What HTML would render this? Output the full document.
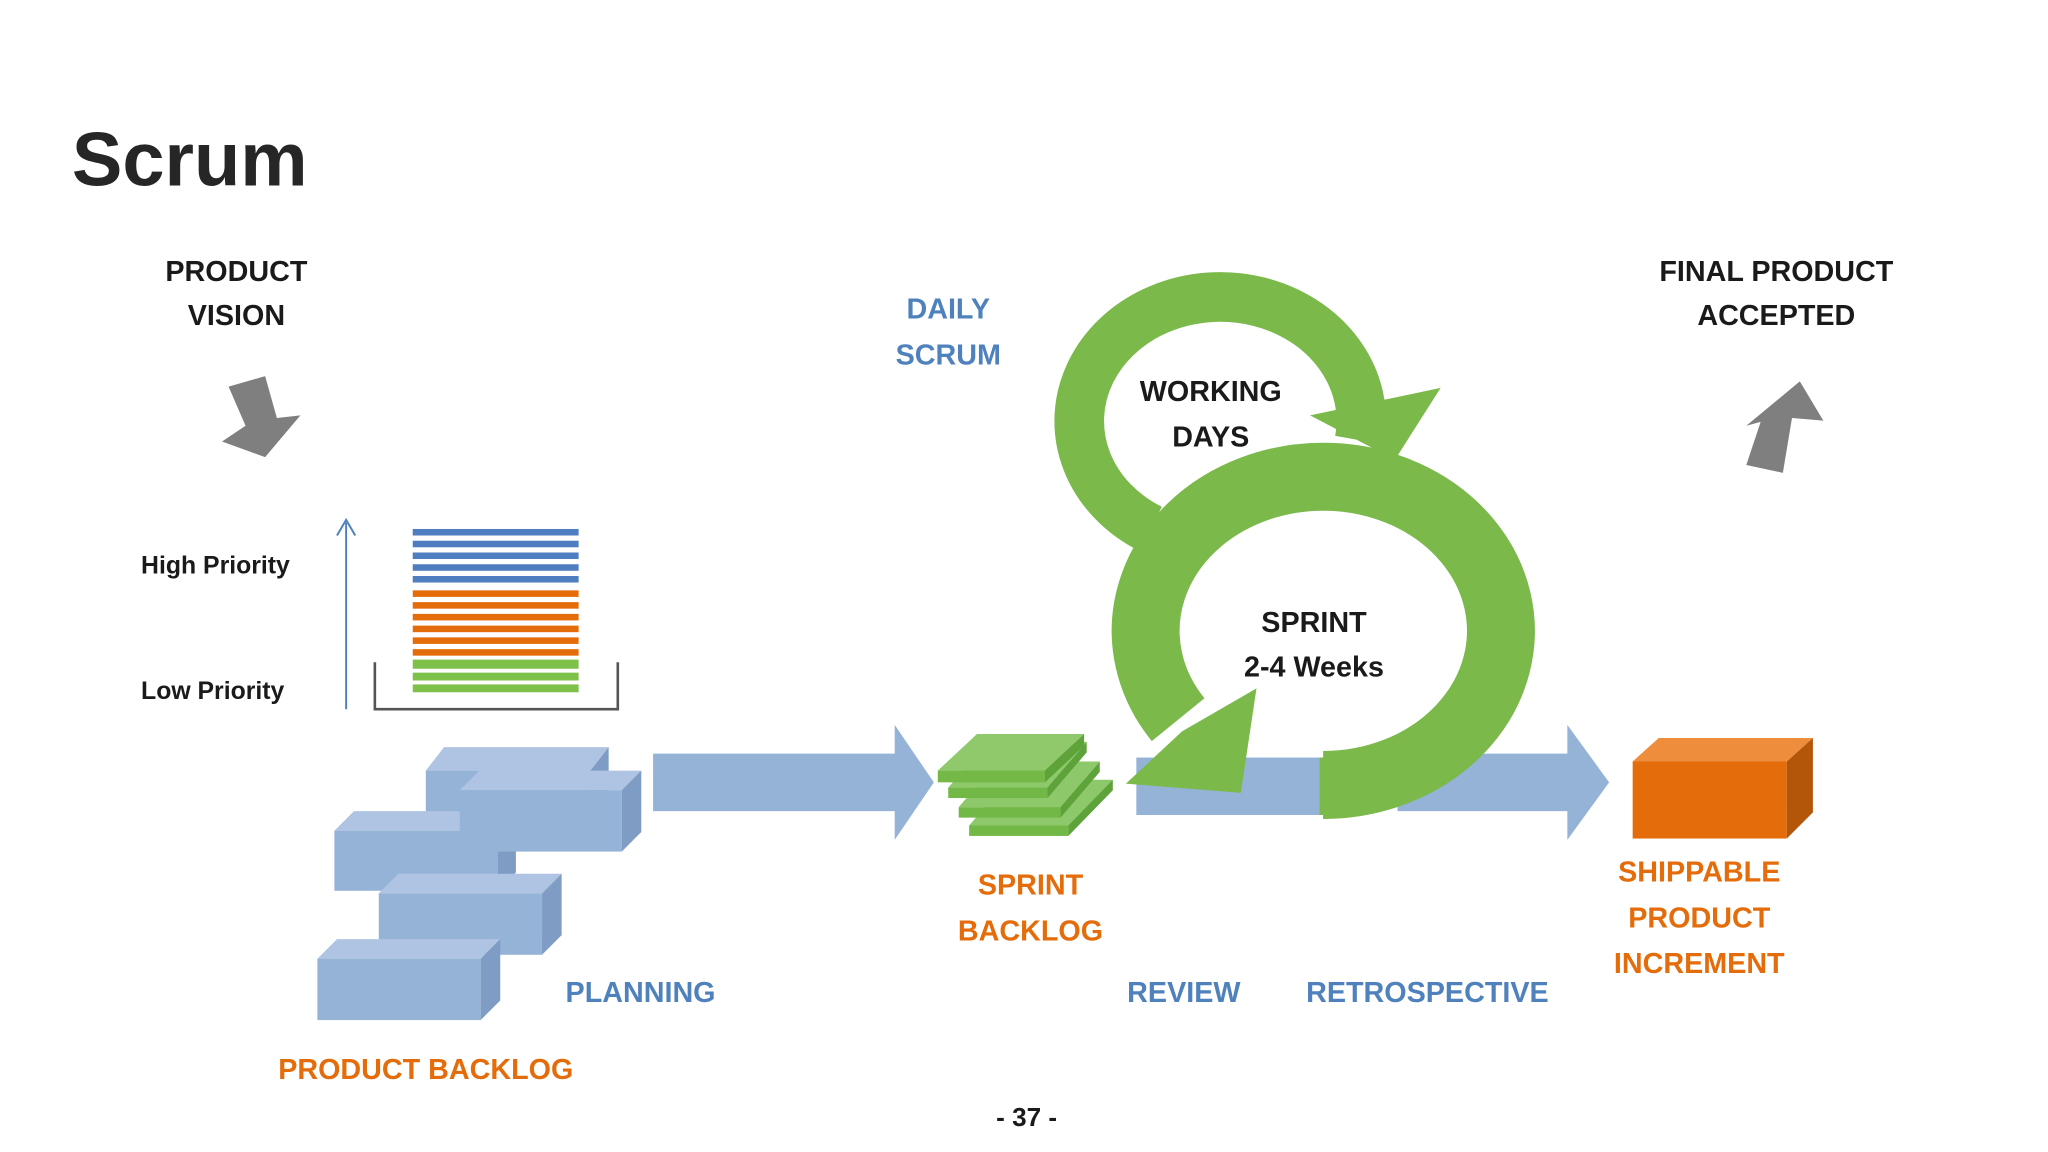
<!DOCTYPE html>
<html><head><meta charset="utf-8"><style>
html,body{margin:0;padding:0;background:#fff;}
svg{display:block;}
text{font-family:"Liberation Sans",sans-serif;font-weight:bold;}
</style></head><body>
<svg width="2048" height="1152" viewBox="0 0 1568 882" xmlns="http://www.w3.org/2000/svg">
<rect width="1568" height="882" fill="#fff"/>
<text x="55" y="142" font-size="58" fill="#262626">Scrum</text>

<g font-size="22" fill="#1a1a1a" text-anchor="middle">
<text x="181" y="215">PRODUCT</text><text x="181" y="249">VISION</text>
<text x="1360" y="215">FINAL PRODUCT</text><text x="1360" y="249">ACCEPTED</text>
</g>
<g font-size="22" fill="#4F81BD" text-anchor="middle">
<text x="726" y="244">DAILY</text><text x="726" y="279">SCRUM</text>
</g>
<g font-size="19" fill="#1a1a1a">
<text x="108" y="439">High Priority</text><text x="108" y="535">Low Priority</text>
</g>

<polygon points="175,296 203,288 212,320 230,318 203,350 170,338 188,326" fill="#7f7f7f"/>
<polygon points="1378,292 1396,322 1372,320 1365,362 1337,356 1348,323 1337,326" fill="#7f7f7f"/>

<line x1="265" y1="543" x2="265" y2="400" stroke="#4F81BD" stroke-width="1.5"/>
<polyline points="258,410 265,398 272,410" fill="none" stroke="#4F81BD" stroke-width="1.5"/>
<g fill="#4F7EC0">
<rect x="316" y="405" width="127" height="5"/><rect x="316" y="414" width="127" height="5"/><rect x="316" y="423" width="127" height="5"/><rect x="316" y="432" width="127" height="5"/><rect x="316" y="441" width="127" height="5"/>
</g>
<g fill="#E46C0A">
<rect x="316" y="452" width="127" height="5"/><rect x="316" y="461" width="127" height="5"/><rect x="316" y="470" width="127" height="5"/><rect x="316" y="479" width="127" height="5"/><rect x="316" y="488" width="127" height="5"/><rect x="316" y="497" width="127" height="5"/>
</g>
<g fill="#7DC04A">
<rect x="316" y="505" width="127" height="7"/><rect x="316" y="515" width="127" height="6"/><rect x="316" y="524" width="127" height="6"/>
</g>
<polyline points="287,507 287,543 473,543 473,507" fill="none" stroke="#555" stroke-width="2"/>

<g>
<polygon points="326,590 340,572 466,572 452,590" fill="#AFC4E2"/>
<rect x="326" y="590" width="126" height="45" fill="#95B3D7"/>
<polygon points="452,590 466,572 466,620 452,635" fill="#7E9CC4"/>
<polygon points="256,636 271,621 395,621 381,636" fill="#AFC4E2"/>
<rect x="256" y="636" width="125" height="46" fill="#95B3D7"/>
<polygon points="381,636 395,621 395,668 381,682" fill="#7E9CC4"/>
<polygon points="352,605 367,590 491,590 476,605" fill="#AFC4E2"/>
<rect x="352" y="605" width="124" height="47" fill="#95B3D7"/>
<polygon points="476,605 491,590 491,637 476,652" fill="#7E9CC4"/>
<polygon points="290,684 305,669 430,669 415,684" fill="#AFC4E2"/>
<rect x="290" y="684" width="125" height="47" fill="#95B3D7"/>
<polygon points="415,684 430,669 430,716 415,731" fill="#7E9CC4"/>
<polygon points="243,734 258,719 383,719 368,734" fill="#AFC4E2"/>
<rect x="243" y="734" width="125" height="47" fill="#95B3D7"/>
<polygon points="368,734 383,719 383,766 368,781" fill="#7E9CC4"/>
</g>

<polygon points="500,577 685,577 685,555 715,599 685,643 685,621 500,621" fill="#95B3D7"/>
<rect x="870" y="580" width="140" height="44" fill="#95B3D7"/>
<polygon points="1070,577 1200,577 1200,555 1232,599 1200,643 1200,621 1070,621" fill="#95B3D7"/>

<g>
<polygon points="742,632 772,597 852,597 822,632" fill="#8DC86A"/><rect x="742" y="632" width="76" height="8" fill="#72B846"/><polygon points="818,640 818,632 852,597 852,605" fill="#5EA33A"/>
<polygon points="734,618 764,583 842,583 812,618" fill="#8DC86A"/><rect x="734" y="618" width="78" height="8" fill="#72B846"/><polygon points="812,626 812,618 842,583 842,591" fill="#5EA33A"/>
<polygon points="726,603 756,568 832,568 802,603" fill="#8DC86A"/><rect x="726" y="603" width="76" height="8" fill="#72B846"/><polygon points="802,611 802,603 832,568 832,576" fill="#5EA33A"/>
<polygon points="718,590 748,562 830,562 800,590" fill="#8FC96C"/><rect x="718" y="590" width="82" height="9" fill="#74B948"/><polygon points="800,599 800,590 830,562 830,571" fill="#5EA33A"/>
</g>

<path d="M1041,337 A108,95 0 1 0 881,405" fill="none" stroke="#7AB94A" stroke-width="38"/>
<polygon points="1003,318 1103,297 1068,352" fill="#7AB94A"/>
<path d="M1013,601 A136,118 0 1 0 902,551" fill="none" stroke="#7AB94A" stroke-width="52"/>
<polygon points="962,527 950,607 862,600 905,560" fill="#7AB94A"/>
<rect x="1010" y="580" width="20" height="44" fill="#7AB94A"/>

<g font-size="22" fill="#1a1a1a" text-anchor="middle">
<text x="927" y="307">WORKING</text><text x="927" y="342">DAYS</text>
<text x="1006" y="484">SPRINT</text><text x="1006" y="518">2-4 Weeks</text>
</g>

<polygon points="1250,583 1270,565 1388,565 1368,583" fill="#EE8D3C"/>
<rect x="1250" y="583" width="118" height="59" fill="#E46C0A"/>
<polygon points="1368,583 1388,565 1388,622 1368,642" fill="#B4560A"/>

<g font-size="22" fill="#E46C0A" text-anchor="middle">
<text x="789" y="685">SPRINT</text><text x="789" y="720">BACKLOG</text>
<text x="1301" y="675">SHIPPABLE</text><text x="1301" y="710">PRODUCT</text><text x="1301" y="745">INCREMENT</text>
</g>
<text x="213" y="826" font-size="22" fill="#E46C0A">PRODUCT BACKLOG</text>
<g font-size="22" fill="#4F81BD">
<text x="433" y="767">PLANNING</text><text x="863" y="767">REVIEW</text><text x="1000" y="767">RETROSPECTIVE</text>
</g>
<text x="786" y="862" font-size="20" fill="#1a1a1a" text-anchor="middle">- 37 -</text>
</svg>
</body></html>
